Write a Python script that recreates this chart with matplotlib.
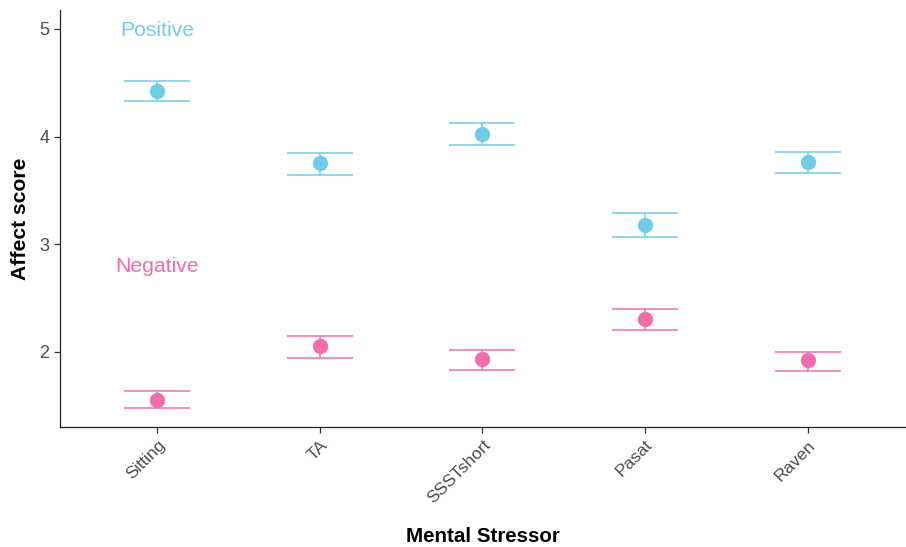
import numpy as np
import matplotlib

matplotlib.use("Agg")
import matplotlib.pyplot as plt

plt.rcParams["font.family"] = ["Liberation Sans", "DejaVu Sans"]

stressors = ["Sitting", "TA", "SSSTshort", "Pasat", "Raven"]

pos_mean = [4.42, 3.75, 4.02, 3.18, 3.76]
pos_low = [4.33, 3.64, 3.92, 3.07, 3.66]
pos_high = [4.52, 3.85, 4.13, 3.29, 3.86]

neg_mean = [1.55, 2.05, 1.93, 2.30, 1.92]
neg_low = [1.48, 1.94, 1.83, 2.20, 1.82]
neg_high = [1.63, 2.15, 2.02, 2.40, 2.00]

BLUE = "#70CDEA"
PINK = "#F26DAA"


def main() -> None:
    fig = plt.figure(figsize=(9.06, 5.47), dpi=100)
    ax = fig.add_axes([0.0662, 0.2194, 0.9327, 0.7623])

    x = np.arange(len(stressors))
    for mean, low, high, col in [
        (pos_mean, pos_low, pos_high, BLUE),
        (neg_mean, neg_low, neg_high, PINK),
    ]:
        mean = np.array(mean)
        yerr = [mean - np.array(low), np.array(high) - mean]
        ax.errorbar(x, mean, yerr=yerr, fmt="none", ecolor=col,
                    elinewidth=1.1, capsize=23.5, capthick=1.1)
        ax.plot(x, mean, "o", color=col, markersize=10, zorder=3)

    ax.text(0, 4.99, "Positive", color=BLUE, fontsize=15.2,
            ha="center", va="center")
    ax.text(0, 2.79, "Negative", color=PINK, fontsize=15.2,
            ha="center", va="center")

    ax.set_xlim(-0.6, 4.6)
    ax.set_ylim(1.30, 5.176)
    ax.set_yticks([2, 3, 4, 5])
    ax.set_xticks(x)
    ax.set_xticklabels(stressors, rotation=45, ha="right",
                       rotation_mode="anchor")
    ax.tick_params(colors="#333333", labelcolor="#4D4D4D",
                   labelsize=12.5, length=4, width=0.9)
    ax.tick_params(axis="y", labelsize=13)

    for side in ["top", "right"]:
        ax.spines[side].set_visible(False)
    for side in ["left", "bottom"]:
        ax.spines[side].set_linewidth(0.9)
        ax.spines[side].set_color("#222222")

    ax.set_xlabel("Mental Stressor", fontsize=14.8, fontweight="bold",
                  labelpad=15)
    ax.set_ylabel("Affect score", fontsize=15.2, fontweight="bold",
                  labelpad=7)

    fig.savefig("out.png", dpi=100)
    plt.close(fig)


if __name__ == "__main__":
    main()
